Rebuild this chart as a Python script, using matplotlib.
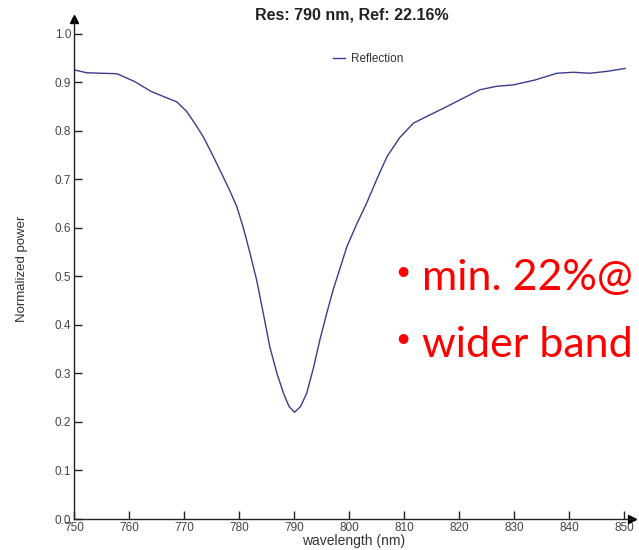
import matplotlib.pyplot as plt
import numpy as np

# Reflection spectrum
wavelength = [750, 752.3, 755, 757.8, 761, 764.1, 766.5, 768.7, 770.5, 772, 773.5, 775.3,
              777.1, 778.4, 779.6, 780.8, 782, 783.2, 784.4, 785.6, 786.9, 788.1, 789.1,
              790.1, 791.2, 792.3, 793.5, 794.7, 795.9, 797.1, 798.4, 799.6, 801.4, 803.2,
              805.0, 806.9, 809.2, 811.7, 814.5, 817.2, 820.5, 823.8, 826.8, 829.9, 833.8,
              837.8, 840.8, 843.8, 847, 850.2]
reflection = [0.926, 0.920, 0.919, 0.918, 0.902, 0.881, 0.870, 0.860, 0.840, 0.815, 0.788, 0.748,
              0.706, 0.675, 0.644, 0.600, 0.548, 0.493, 0.425, 0.355, 0.300, 0.259, 0.232,
              0.220, 0.232, 0.259, 0.310, 0.369, 0.422, 0.472, 0.518, 0.561, 0.608, 0.651,
              0.699, 0.747, 0.786, 0.816, 0.832, 0.847, 0.866, 0.885, 0.892, 0.895, 0.905,
              0.919, 0.921, 0.919, 0.923, 0.929]
xticks = [750, 760, 770, 780, 790, 800, 810, 820, 830, 840, 850]
yticks = [0.0, 0.1, 0.2, 0.3, 0.4, 0.5, 0.6, 0.7, 0.8, 0.9, 1.0]
notes = ["min. 22%@", "wider band"]

plt.rcParams['font.family'] = ['Liberation Sans', 'DejaVu Sans']

W, H = 639, 550
fig = plt.figure(figsize=(W / 100, H / 100), dpi=100)
ax = fig.add_axes([74 / W, 31 / H, (632.25 - 74) / W, 499.6 / H])

ax.plot(wavelength, reflection, color='#3c3c8c', linewidth=1.0, label='Reflection')
ax.set_xlim(750, 851.5)
ax.set_ylim(0, 1.03)
ax.set_xticks(xticks)
ax.set_xticklabels([str(t) for t in xticks])
ax.set_yticks(yticks)
ax.set_yticklabels(['%.1f' % t for t in yticks])

for s in ['top', 'right']:
    ax.spines[s].set_visible(False)
for s in ['left', 'bottom']:
    ax.spines[s].set_color('#222222')
    ax.spines[s].set_linewidth(1.0)
ax.tick_params(direction='in', length=6, width=1, colors='#222222', labelsize=8.5,
               labelcolor='#444444', pad=2)

# axis arrows
ax.plot(1, 0, '>', color='black', markersize=6, transform=ax.transAxes, clip_on=False)
ax.plot(0, 1, '^', color='black', markersize=6, transform=ax.transAxes, clip_on=False)

ax.set_xlabel('wavelength (nm)', fontsize=10, color='#333333', labelpad=0)
ax.set_ylabel('Normalized power', fontsize=9.5, color='#333333', labelpad=19)

leg = ax.legend(loc='upper center', bbox_to_anchor=(0.527, 0.954), frameon=False,
                fontsize=8.5, handlelength=1.0, handletextpad=0.5)
for t in leg.get_texts():
    t.set_color('#333333')

fig.text(352 / W, 1 - 15 / H, 'Res: 790 nm, Ref: 22.16%', ha='center', va='center',
         fontsize=11.5, fontweight='bold', color='#222222')

for i, note in enumerate(notes):
    yb = 1 - (290 + 67 * i) / H
    fig.text(395 / W, yb + 10 / H, '\u2022', color='red', fontsize=19, family='Lato',
             ha='left', va='baseline')
    fig.text(422 / W, yb, note, color='red', fontsize=31, family='Lato',
             ha='left', va='baseline')

fig.savefig('out.png', dpi=100)
